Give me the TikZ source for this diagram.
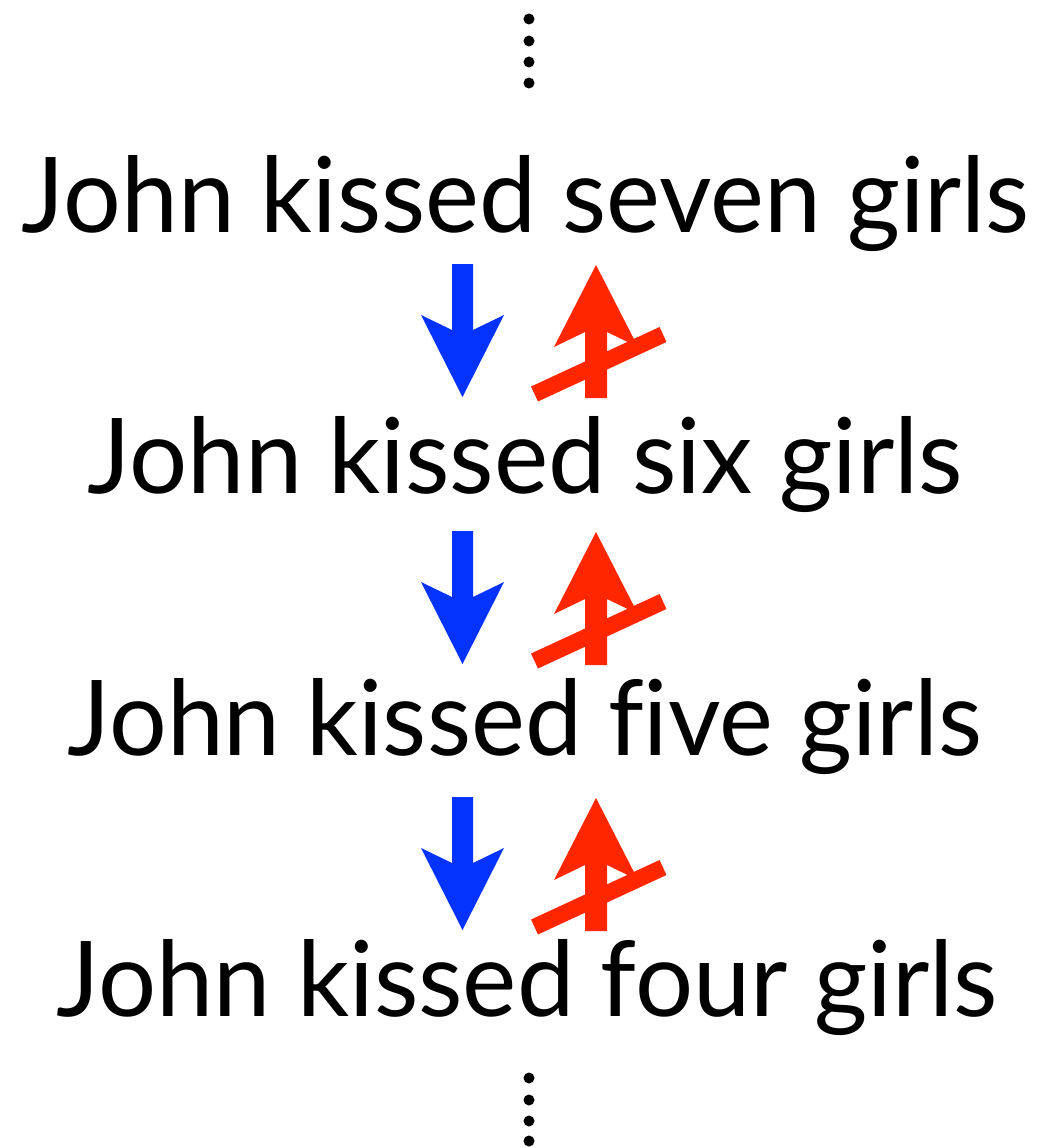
\documentclass[tikz,border=0pt]{standalone}
\usepackage{fontspec}
\setmainfont{Lato}[Ligatures=NoCommon]
\definecolor{kblue}{HTML}{0433FF}
\definecolor{kred}{HTML}{FF2600}
\begin{document}
\begin{tikzpicture}[x=1pt,y=-1pt,
  txt/.style={anchor=base, inner sep=0pt, outer sep=0pt},
  dotmark/.style={fill=black},
  downarrow/.style={fill=kblue},
  uparrow/.style={fill=kred},
  strike/.style={draw=kred, line width=16.5pt}]
\useasboundingbox (0,0) rectangle (1040,1148);
% dots
\foreach \yy in {19,41,62,83,1078,1100,1121,1141}
  \fill[dotmark] (529,\yy) circle (5.5);
% sentences
\node[txt] (s7) at (526,232) {\resizebox{1008pt}{77pt}{John kissed seven girls}};
\node[txt] (s6) at (525.5,493) {\resizebox{875pt}{77pt}{John kissed six girls}};
\node[txt] (s5) at (525,755) {\resizebox{914pt}{77pt}{John kissed f\kern0pt ive girls}};
\node[txt] (s4) at (527.5,1016) {\resizebox{941pt}{77pt}{John kissed four girls}};
% arrow pairs
\foreach \dy in {0,267,533}{
  \begin{scope}[yshift=-\dy pt]
    \fill[downarrow] (452,264) -- (473,264) -- (473,330) -- (504,315) -- (462.5,397) -- (421,315) -- (452,330) -- cycle;
    \fill[uparrow] (585,398) -- (585,332) -- (554,347) -- (596,265) -- (638,347) -- (607,332) -- (607,398) -- cycle;
    \draw[strike] (534.5,394) -- (663,334.5);
  \end{scope}
}
\end{tikzpicture}
\end{document}
